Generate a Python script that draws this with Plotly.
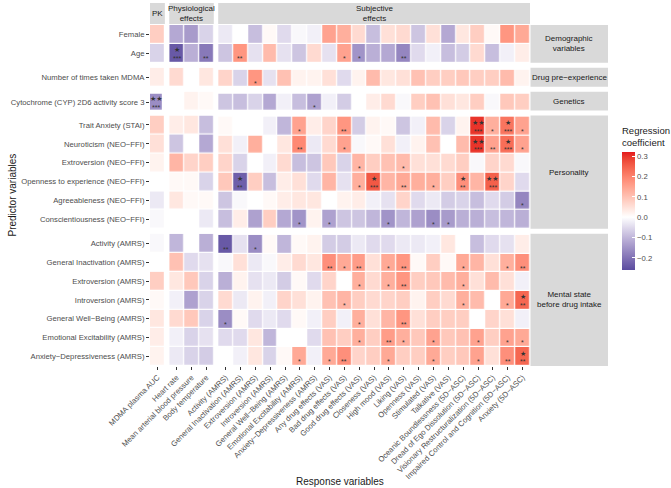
import plotly.graph_objects as go
from plotly.subplots import make_subplots

M = "\u2212"
# ---------------- categories ----------------
pk_responses = ["MDMA plasma AUC"]
physio_responses = ["Heart rate", "Mean arterial blood pressure", "Body temperature"]
subjective_responses = [
    "Activity (AMRS)", "General Inactivation (AMRS)", "Extroversion (AMRS)", "Introversion (AMRS)",
    f"General Well{M}Being (AMRS)", "Emotional Excitability (AMRS)", f"Anxiety{M}Depressiveness (AMRS)",
    "Any drug effects (VAS)", "Bad drug effects (VAS)", "Good drug effects (VAS)", "Closeness (VAS)",
    "High mood (VAS)", "Liking (VAS)", "Openness (VAS)", "Stimulated (VAS)", "Talkative (VAS)",
    f"Oceanic Boundlessness (5D{M}ASC)", f"Dread of Ego Dissolution (5D{M}ASC)",
    f"Visionary Restructuralization (5D{M}ASC)", f"Impaired Control and Cognition (5D{M}ASC)",
    f"Anxiety (5D{M}ASC)"]
responses = pk_responses + physio_responses + subjective_responses

demographic = ["Female", "Age"]
drug_experience = ["Number of times taken MDMA"]
genetics = ["Cytochrome (CYP) 2D6 activity score 3"]
personality = ["Trait Anxiety (STAI)", f"Neuroticism (NEO{M}FFI)", f"Extroversion (NEO{M}FFI)",
               f"Openness to experience (NEO{M}FFI)", f"Agreeableness (NEO{M}FFI)",
               f"Conscientiousness (NEO{M}FFI)"]
mental_state = ["Activity (AMRS)", "General Inactivation (AMRS)", "Extroversion (AMRS)",
                "Introversion (AMRS)", f"General Well{M}Being (AMRS)", "Emotional Excitability (AMRS)",
                f"Anxiety{M}Depressiveness (AMRS)"]

col_groups = [("PK", pk_responses), ("Physiological<br>effects", physio_responses),
              ("Subjective<br>effects", subjective_responses)]
row_groups = [("Demographic<br>variables", demographic), (f"Drug pre{M}experience", drug_experience),
              ("Genetics", genetics), ("Personality", personality),
              ("Mental state<br>before drug intake", mental_state)]

# ---------------- regression coefficients (order = responses) ----------------
female = [0.08, -0.12, -0.14, -0.06, -0.03, 0.0, -0.09, 0.01, -0.05, -0.01, -0.02, 0.15, 0.13, 0.06, -0.09, 0.05, 0.06, -0.08, 0.05, -0.12, 0.04, 0.08, 0.01, 0.17, 0.14]
age = [-0.06, -0.24, -0.11, -0.19, -0.08, 0.17, -0.04, 0.11, -0.04, -0.08, 0.06, -0.04, 0.15, -0.15, -0.11, -0.12, -0.17, -0.05, -0.02, -0.09, -0.07, 0.06, -0.09, -0.02, 0.03]
times_mdma = [0.03, 0.06, 0.0, 0.04, 0.07, -0.06, 0.17, -0.04, 0.1, 0.02, 0.02, 0.05, -0.05, 0.02, 0.11, 0.04, 0.05, 0.1, 0.08, 0.08, 0.09, 0.08, 0.08, 0.11, 0.02]
cyp2d6 = [-0.16, 0.0, 0.02, 0.01, -0.08, -0.09, -0.06, -0.12, -0.02, -0.09, -0.13, -0.02, -0.07, 0.0, 0.03, 0.06, -0.01, 0.08, 0.1, 0.05, 0.04, 0.08, -0.01, 0.09, 0.08]
trait_anxiety = [0.08, 0.03, 0.04, -0.09, 0.01, 0.0, 0.0, -0.02, -0.1, 0.15, 0.03, 0.07, 0.17, -0.07, 0.02, 0.01, -0.08, -0.02, 0.11, -0.06, 0.02, 0.3, 0.13, 0.22, 0.15]
neuroticism = [0.05, -0.08, 0.0, -0.12, 0.05, -0.02, 0.13, 0.0, 0.04, 0.19, -0.03, 0.06, 0.15, -0.01, 0.01, 0.05, -0.02, 0.02, 0.1, 0.0, 0.11, 0.3, 0.15, 0.23, 0.15]
extroversion_neo = [0.02, 0.12, 0.07, 0.08, 0.07, -0.06, 0.0, -0.02, 0.06, -0.09, -0.08, 0.09, -0.06, 0.12, 0.08, 0.1, 0.11, 0.05, 0.05, 0.06, 0.08, -0.01, 0.07, 0.06, -0.01]
openness = [0.0, 0.01, 0.01, -0.06, 0.09, -0.23, 0.08, -0.09, 0.03, 0.05, -0.05, 0.12, -0.04, 0.13, 0.26, 0.12, 0.14, 0.13, 0.13, 0.08, 0.18, 0.12, 0.25, 0.07, -0.05]
agreeableness = [-0.03, 0.04, 0.01, 0.01, -0.08, -0.01, 0.0, 0.01, 0.03, 0.04, 0.04, 0.0, 0.02, 0.03, -0.02, -0.04, 0.07, -0.05, -0.03, -0.07, -0.06, -0.09, -0.05, -0.07, -0.17]
conscientiousness = [-0.01, 0.0, 0.0, -0.03, -0.09, 0.03, -0.13, 0.08, -0.12, -0.15, 0.02, -0.13, -0.08, -0.08, -0.1, -0.15, -0.1, -0.13, -0.16, -0.14, -0.11, -0.11, -0.09, -0.1, -0.11]
activity_amrs = [-0.01, -0.1, 0.0, -0.11, -0.24, -0.04, -0.16, 0.01, -0.1, 0.01, 0.02, -0.07, -0.07, -0.03, -0.05, -0.05, -0.03, -0.03, -0.02, 0.04, 0.0, -0.09, -0.05, -0.04, 0.03]
inactivation_amrs = [0.0, 0.1, -0.05, -0.04, -0.01, 0.05, -0.03, -0.01, 0.03, 0.06, 0.04, 0.18, 0.14, 0.16, 0.05, 0.14, 0.17, 0.01, 0.08, 0.01, 0.14, 0.12, 0.05, 0.13, 0.18]
extroversion_amrs = [0.08, 0.04, 0.09, -0.06, -0.11, 0.02, -0.04, -0.03, -0.07, 0.01, -0.05, 0.07, 0.0, 0.13, 0.06, 0.13, 0.17, 0.08, 0.09, 0.11, 0.13, 0.05, 0.11, 0.05, -0.02]
introversion_amrs = [0.01, -0.02, -0.13, -0.06, 0.06, -0.03, 0.02, -0.02, 0.07, 0.05, 0.02, 0.1, 0.12, 0.08, 0.06, 0.07, 0.08, 0.02, 0.08, 0.06, 0.13, 0.11, 0.0, 0.14, 0.24]
wellbeing_amrs = [0.04, 0.06, 0.09, -0.06, -0.16, 0.01, -0.05, -0.03, -0.05, 0.01, -0.02, 0.08, -0.02, 0.13, 0.05, 0.12, 0.17, 0.05, 0.08, 0.08, 0.08, 0.0, 0.07, 0.05, -0.02]
excitability_amrs = [0.03, -0.02, -0.06, -0.04, -0.05, -0.05, 0.04, -0.1, 0.0, 0.0, -0.05, 0.1, 0.08, 0.13, 0.08, 0.16, 0.13, 0.09, 0.15, 0.09, 0.1, 0.15, 0.08, 0.15, 0.14]
anxdep_amrs = [0.02, -0.03, -0.06, -0.07, 0.0, -0.02, 0.04, -0.06, 0.01, 0.14, -0.02, 0.14, 0.18, 0.07, 0.08, 0.14, 0.08, 0.08, 0.14, 0.08, 0.09, 0.15, 0.05, 0.18, 0.24]

values = dict(zip(demographic + drug_experience + genetics + personality + mental_state,
                  [female, age, times_mdma, cyp2d6, trait_anxiety, neuroticism, extroversion_neo,
                   openness, agreeableness, conscientiousness, activity_amrs, inactivation_amrs,
                   extroversion_amrs, introversion_amrs, wellbeing_amrs, excitability_amrs, anxdep_amrs]))

# ---------------- significance marks (predictor, response, corrected, uncorrected) ----------------
S = subjective_responses
P = personality
A = mental_state
significance = [
    ("Age", "Heart rate", "★", "***"), ("Age", "Body temperature", "", "**"), ("Age", S[1], "", "**"),
    ("Age", S[8], "", "*"), ("Age", S[9], "", "*"), ("Age", S[12], "", "**"),
    ("Number of times taken MDMA", S[2], "", "*"),
    (genetics[0], "MDMA plasma AUC", "★★", "***"), (genetics[0], S[6], "", "*"),
    (P[0], S[5], "", "*"), (P[0], S[8], "", "**"), (P[0], S[17], "★★", "***"), (P[0], S[18], "", "*"),
    (P[0], S[19], "★", "***"), (P[0], S[20], "", "*"),
    (P[1], S[5], "", "**"), (P[1], S[8], "", "*"), (P[1], S[17], "★★", "***"), (P[1], S[18], "", "**"),
    (P[1], S[19], "★", "***"), (P[1], S[20], "", "*"),
    (P[2], S[9], "", "*"), (P[2], S[12], "", "*"),
    (P[3], S[1], "★", "**"), (P[3], S[9], "", "*"), (P[3], S[10], "★", "***"), (P[3], S[12], "", "**"),
    (P[3], S[14], "", "*"), (P[3], S[16], "★", "**"), (P[3], S[18], "★★", "***"),
    (P[4], S[20], "", "*"),
    (P[5], S[5], "", "*"), (P[5], S[7], "", "*"), (P[5], S[11], "", "*"), (P[5], S[14], "", "*"),
    (P[5], S[15], "", "*"),
    (A[0], S[0], "", "**"), (A[0], S[2], "", "*"),
    (A[1], S[7], "", "**"), (A[1], S[8], "", "*"), (A[1], S[9], "", "**"), (A[1], S[11], "", "*"),
    (A[1], S[12], "", "**"), (A[1], S[16], "", "*"), (A[1], S[19], "", "*"), (A[1], S[20], "", "**"),
    (A[2], S[9], "", "*"), (A[2], S[11], "", "*"), (A[2], S[12], "", "**"), (A[2], S[16], "", "*"),
    (A[3], S[8], "", "*"), (A[3], S[16], "", "*"), (A[3], S[19], "", "*"), (A[3], S[20], "★", "**"),
    (A[4], S[0], "", "*"), (A[4], S[9], "", "*"), (A[4], S[12], "", "**"),
    (A[5], S[9], "", "*"), (A[5], S[11], "", "**"), (A[5], S[12], "", "*"), (A[5], S[14], "", "*"),
    (A[5], S[17], "", "*"), (A[5], S[19], "", "*"), (A[5], S[20], "", "*"),
    (A[6], S[5], "", "*"), (A[6], S[7], "", "*"), (A[6], S[8], "", "**"), (A[6], S[11], "", "*"),
    (A[6], S[14], "", "*"), (A[6], S[17], "", "*"), (A[6], S[19], "", "**"), (A[6], S[20], "★", "**"),
]

# ---------------- colour scale (Lab interpolation like ggplot gradient2) ----------------
CMIN, CMAX = -0.26, 0.32
LOW, MID, HIGH = "#5B4C9F", "#FFFFFF", "#E41A1C"


def _lin(c):
    return c / 12.92 if c <= 0.04045 else ((c + 0.055) / 1.055) ** 2.4


def _delin(c):
    c = min(max(c, 0.0), 1.0)
    return 12.92 * c if c <= 0.0031308 else 1.055 * c ** (1 / 2.4) - 0.055


def to_lab(h):
    r, g, b = [_lin(int(h[i:i + 2], 16) / 255) for i in (1, 3, 5)]
    X = (0.4124 * r + 0.3576 * g + 0.1805 * b) / 0.95047
    Y = 0.2126 * r + 0.7152 * g + 0.0722 * b
    Z = (0.0193 * r + 0.1192 * g + 0.9505 * b) / 1.08883
    f = lambda t: t ** (1 / 3) if t > 0.008856 else 7.787 * t + 16 / 116
    fx, fy, fz = f(X), f(Y), f(Z)
    return 116 * fy - 16, 500 * (fx - fy), 200 * (fy - fz)


def from_lab(L, a, b):
    fy = (L + 16) / 116
    fx, fz = fy + a / 500, fy - b / 200
    fi = lambda t: t ** 3 if t ** 3 > 0.008856 else (t - 16 / 116) / 7.787
    X, Y, Z = 0.95047 * fi(fx), fi(fy), 1.08883 * fi(fz)
    r = 3.2406 * X - 1.5372 * Y - 0.4986 * Z
    g = -0.9689 * X + 1.8758 * Y + 0.0415 * Z
    bb = 0.0557 * X - 0.2040 * Y + 1.0570 * Z
    return "rgb(%d,%d,%d)" % tuple(round(_delin(c) * 255) for c in (r, g, bb))


def mix(c1, c2, t):
    l1, l2 = to_lab(c1), to_lab(c2)
    return from_lab(*[a + (b - a) * t for a, b in zip(l1, l2)])


zero_pos = -CMIN / (CMAX - CMIN)
colorscale = []
n = 12
for i in range(n):
    colorscale.append([zero_pos * i / n, mix(LOW, MID, i / n)])
for i in range(n + 1):
    colorscale.append([zero_pos + (1 - zero_pos) * i / n, mix(MID, HIGH, i / n)])

# ---------------- figure ----------------
L_M, R_M, T_M, B_M = 150, 141, 25, 122
W, H = 671, 488
PW, PH = W - L_M - R_M, H - T_M - B_M

fig = make_subplots(rows=5, cols=3,
                    column_widths=[len(c) for _, c in col_groups],
                    row_heights=[len(r) for _, r in row_groups],
                    horizontal_spacing=4.4 / PW, vertical_spacing=5.0 / PH)

TXT = "#4D4D4D"
FONT = "Liberation Sans, Arial, sans-serif"
TICK = 7.7

for ri, (rname, preds) in enumerate(row_groups, start=1):
    for ci, (cname, cols) in enumerate(col_groups, start=1):
        idx = [responses.index(c) for c in cols]
        z = [[values[p][k] for k in idx] for p in preds]
        fig.add_trace(go.Heatmap(z=z, x=cols, y=preds, coloraxis="coloraxis", xgap=1.2, ygap=1.2,
                                 hovertemplate="%{y}<br>%{x}<br>%{z:.2f}<extra></extra>"),
                      row=ri, col=ci)
        fig.update_xaxes(row=ri, col=ci, showticklabels=(ri == 5), ticks="outside" if ri == 5 else "",
                         ticklen=3, tickcolor="#333333", tickangle=-45, showgrid=False, zeroline=False,
                         tickfont=dict(size=TICK, color=TXT, family=FONT), automargin=False,
                         categoryorder="array", categoryarray=cols)
        fig.update_yaxes(row=ri, col=ci, showticklabels=(ci == 1), ticks="outside" if ci == 1 else "",
                         ticklen=3, tickcolor="#333333", autorange="reversed", showgrid=False,
                         zeroline=False, tickfont=dict(size=TICK, color=TXT, family=FONT),
                         automargin=False, categoryorder="array", categoryarray=preds)


def axis_ids(ri, ci):
    k = (ri - 1) * 3 + ci
    return ("x" if k == 1 else f"x{k}"), ("y" if k == 1 else f"y{k}")


row_of = {p: i for i, (_, ps) in enumerate(row_groups, start=1) for p in ps}
col_of = {c: i for i, (_, cs) in enumerate(col_groups, start=1) for c in cs}

annotations = []
for pred, resp, top, bottom in significance:
    xr, yr = axis_ids(row_of[pred], col_of[resp])
    if top:
        annotations.append(dict(x=resp, y=pred, xref=xr, yref=yr, text=top, showarrow=False,
                                xanchor="center", yanchor="middle", yshift=3,
                                font=dict(size=7, color="#333333", family="DejaVu Sans")))
    annotations.append(dict(x=resp, y=pred, xref=xr, yref=yr, text=bottom, showarrow=False,
                            xanchor="center", yanchor="middle", yshift=-5,
                            font=dict(size=7, color="#333333", family=FONT)))

shapes = []
STRIP = "#D9D9D9"
STRIP_FONT = dict(size=8, color="#1A1A1A", family=FONT)
# top strips
for ci, (cname, cols) in enumerate(col_groups, start=1):
    xr, _ = axis_ids(1, ci)
    dom = fig.layout["xaxis" if xr == "x" else "xaxis" + xr[1:]].domain
    y0 = 1 + 1.0 / PH
    y1 = 1 + 22.0 / PH
    shapes.append(dict(type="rect", xref="paper", yref="paper", x0=dom[0], x1=dom[1], y0=y0, y1=y1,
                       fillcolor=STRIP, line=dict(width=0), layer="below"))
    annotations.append(dict(x=(dom[0] + dom[1]) / 2, y=(y0 + y1) / 2, xref="paper", yref="paper",
                            xanchor="center", yanchor="middle",
                            text=cname, showarrow=False, font=STRIP_FONT))
# right strips
for ri, (rname, preds) in enumerate(row_groups, start=1):
    _, yr = axis_ids(ri, 3)
    dom = fig.layout["yaxis" if yr == "y" else "yaxis" + yr[1:]].domain
    x0 = 1 + 0.5 / PW
    x1 = 1 + 78.0 / PW
    shapes.append(dict(type="rect", xref="paper", yref="paper", x0=x0, x1=x1, y0=dom[0], y1=dom[1],
                       fillcolor=STRIP, line=dict(width=0), layer="below"))
    annotations.append(dict(x=(x0 + x1) / 2, y=(dom[0] + dom[1]) / 2, xref="paper", yref="paper",
                            xanchor="center", yanchor="middle",
                            text=rname, showarrow=False, font=STRIP_FONT))

# axis titles
annotations.append(dict(x=0.5, y=-(481 - 366) / PH, xref="paper", yref="paper", text="Response variables",
                        xanchor="center", yanchor="middle",
                        showarrow=False, font=dict(size=10, color="#1A1A1A", family=FONT)))
annotations.append(dict(x=-(150 - 12) / PW, y=0.5, xref="paper", yref="paper", text="Predictor variables",
                        xanchor="center", yanchor="middle",
                        textangle=-90, showarrow=False, font=dict(size=10, color="#1A1A1A", family=FONT)))

fig.update_layout(
    width=W, height=H, margin=dict(l=L_M, r=R_M, t=T_M, b=B_M, autoexpand=False),
    paper_bgcolor="white", plot_bgcolor="white",
    font=dict(family=FONT, color=TXT),
    coloraxis=dict(colorscale=colorscale, cmin=CMIN, cmax=CMAX,
                   colorbar=dict(title=dict(text="Regression<br>coefficient", side="top",
                                            font=dict(size=9.5, color="#1A1A1A", family=FONT)),
                                 x=(622 - L_M) / PW, xanchor="left", xref="paper", xpad=0, ypad=0,
                                 y=(366 - 197) / PH, yanchor="middle",
                                 thickness=13, thicknessmode="pixels", len=146, lenmode="pixels",
                                 outlinewidth=0, ticks="inside", ticklen=3, tickcolor="white",
                                 tickvals=[-0.2, -0.1, 0.0, 0.1, 0.2, 0.3],
                                 ticktext=[f"{M}0.2", f"{M}0.1", "0.0", "0.1", "0.2", "0.3"],
                                 tickfont=dict(size=TICK, color=TXT, family=FONT))),
    shapes=shapes, annotations=annotations, showlegend=False,
)

fig.write_html("out.html", config={"displayModeBar": False},
               post_script="document.body.style.margin='0';")
